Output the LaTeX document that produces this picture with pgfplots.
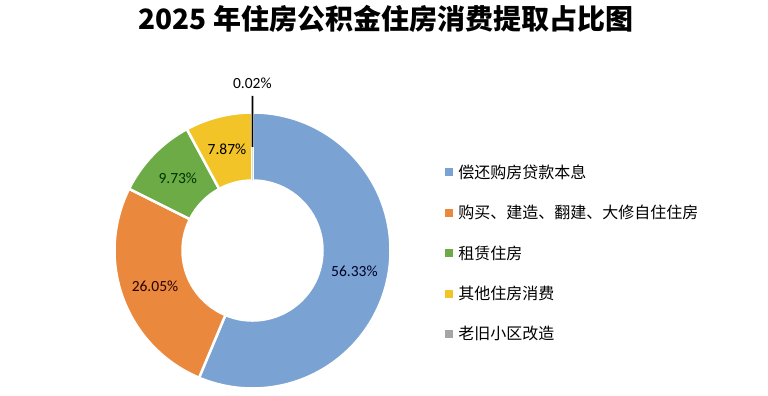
\documentclass[border=0pt]{standalone}
\usepackage{pgfplots}
\pgfplotsset{compat=1.18}
\usepackage{pgfplotstable}
\usepackage{fontspec}
\setmainfont{Carlito}
\newfontfamily\cjk{Noto Sans CJK SC}
\definecolor{cA}{RGB}{122,163,211}
\definecolor{cB}{RGB}{234,137,62}
\definecolor{cC}{RGB}{109,171,70}
\definecolor{cD}{RGB}{242,196,40}
\definecolor{cE}{RGB}{166,166,166}

\pgfplotstableread{
share
56.33
26.05
9.73
7.87
0.02
}\donut

\begin{document}
\begin{tikzpicture}
\pgfplotstablegetelem{0}{share}\of\donut \pgfmathsetmacro\vA{\pgfplotsretval}
\pgfplotstablegetelem{1}{share}\of\donut \pgfmathsetmacro\vB{\pgfplotsretval}
\pgfplotstablegetelem{2}{share}\of\donut \pgfmathsetmacro\vC{\pgfplotsretval}
\pgfplotstablegetelem{3}{share}\of\donut \pgfmathsetmacro\vD{\pgfplotsretval}
\pgfplotstablegetelem{4}{share}\of\donut \pgfmathsetmacro\vE{\pgfplotsretval}
\pgfmathsetmacro\aA{90}
\pgfmathsetmacro\aB{\aA-3.6*\vA}
\pgfmathsetmacro\aC{\aB-3.6*\vB}
\pgfmathsetmacro\aD{\aC-3.6*\vC}
\pgfmathsetmacro\aE{\aD-3.6*\vD}
\pgfmathsetmacro\aF{\aE-3.6*\vE}
\pgfmathsetmacro\mA{(\aA+\aB)/2}
\pgfmathsetmacro\mB{(\aB+\aC)/2}
\pgfmathsetmacro\mC{(\aC+\aD)/2}
\pgfmathsetmacro\mD{(\aD+\aE)/2}
\pgfmathsetmacro\mE{(\aE+\aF)/2}
\begin{axis}[
  scale only axis, width=768bp, height=394bp,
  axis line style={draw=none}, xtick=\empty, ytick=\empty,
  xmin=0, xmax=768, ymin=0, ymax=394, clip=false,
  legend style={draw=none, fill=none, at={(axis cs:442,141)}, anchor=west,
    font=\cjk\fontsize{16bp}{18bp}\selectfont, row sep=21.5bp,
    legend cell align=left},
]
\addlegendimage{legend image code/.code={\fill[cA] (0bp,-3.5bp) rectangle (7bp,3.5bp); \path[draw=none, fill=none] (0bp,0bp) rectangle (11bp,0.1bp);}}
\addlegendentry{偿还购房贷款本息}
\addlegendimage{legend image code/.code={\fill[cB] (0bp,-3.5bp) rectangle (7bp,3.5bp); \path[draw=none, fill=none] (0bp,0bp) rectangle (11bp,0.1bp);}}
\addlegendentry{购买、建造、翻建、大修自住住房}
\addlegendimage{legend image code/.code={\fill[cC] (0bp,-3.5bp) rectangle (7bp,3.5bp); \path[draw=none, fill=none] (0bp,0bp) rectangle (11bp,0.1bp);}}
\addlegendentry{租赁住房}
\addlegendimage{legend image code/.code={\fill[cD] (0bp,-3.5bp) rectangle (7bp,3.5bp); \path[draw=none, fill=none] (0bp,0bp) rectangle (11bp,0.1bp);}}
\addlegendentry{其他住房消费}
\addlegendimage{legend image code/.code={\fill[cE] (0bp,-3.5bp) rectangle (7bp,3.5bp); \path[draw=none, fill=none] (0bp,0bp) rectangle (11bp,0.1bp);}}
\addlegendentry{老旧小区改造}

\begin{scope}[shift={(axis cs:252.5,143.5)}]
\fill[cA, draw=white, line width=2.5bp] (\aA:138bp) arc[start angle=\aA, end angle=\aB, radius=138bp] -- (\aB:70bp) arc[start angle=\aB, end angle=\aA, radius=70bp] -- cycle;
\fill[cB, draw=white, line width=2.5bp] (\aB:138bp) arc[start angle=\aB, end angle=\aC, radius=138bp] -- (\aC:70bp) arc[start angle=\aC, end angle=\aB, radius=70bp] -- cycle;
\fill[cC, draw=white, line width=2.5bp] (\aC:138bp) arc[start angle=\aC, end angle=\aD, radius=138bp] -- (\aD:70bp) arc[start angle=\aD, end angle=\aC, radius=70bp] -- cycle;
\fill[cD, draw=white, line width=2.5bp] (\aD:138bp) arc[start angle=\aD, end angle=\aE, radius=138bp] -- (\aE:70bp) arc[start angle=\aE, end angle=\aD, radius=70bp] -- cycle;
\fill[cE] (\aE:138bp) arc[start angle=\aE, end angle=\aF, radius=138bp] -- (\aF:70bp) arc[start angle=\aF, end angle=\aE, radius=70bp] -- cycle;
\draw[black, line width=1.8bp] (\mE:103.5bp) -- (\mE:154.5bp);
\node[font=\fontsize{15.5bp}{17bp}\selectfont, text=black!85!blue] at (\mA:104bp) {\vA\%};
\node[font=\fontsize{15.5bp}{17bp}\selectfont, text=black!85!red] at (\mB:104bp) {\vB\%};
\node[font=\fontsize{15.5bp}{17bp}\selectfont, text=black!80!green] at (\mC:104bp) {\vC\%};
\node[font=\fontsize{15.5bp}{17bp}\selectfont, text=black] at (\mD:104bp) {\vD\%};
\node[font=\fontsize{15.5bp}{17bp}\selectfont, text=black] at (\mE:167bp) {0.02\%};
\end{scope}
\node[font=\cjk\bfseries\fontsize{28bp}{30bp}\selectfont] at (axis cs:386,375) {2025 年住房公积金住房消费提取占比图};
\end{axis}
\end{tikzpicture}
\end{document}
